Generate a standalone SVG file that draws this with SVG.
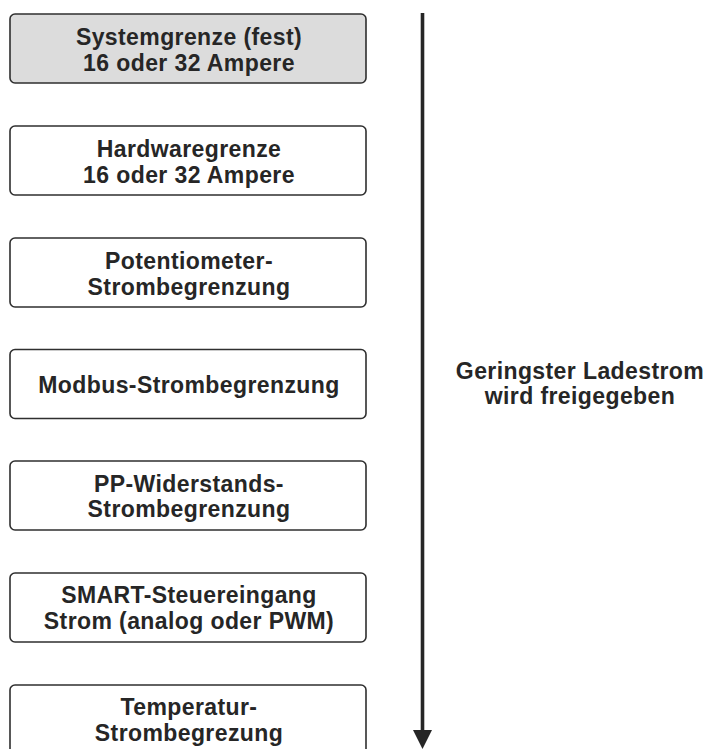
<svg xmlns="http://www.w3.org/2000/svg" width="707" height="749" viewBox="0 0 707 749">
  <defs>
    <style>
      .box { fill: #ffffff; stroke: #2f2f2f; stroke-width: 1.6; }
      .box.fixed { fill: #dcdcdc; }
      .lbl { font-family: "Liberation Sans", Arial, sans-serif; font-weight: bold; font-size: 23px; letter-spacing: 0.4px; fill: #262626; text-anchor: middle; }
      .flow { stroke: #262626; stroke-width: 3.6; fill: none; }
    </style>
  </defs>
  <rect width="707" height="749" fill="#ffffff"/>

  <!-- limit stages, evaluated top to bottom -->
  <g id="systemgrenze">
    <rect class="box fixed" x="10" y="14" width="356" height="69" rx="5"/>
    <text class="lbl" x="189" y="45">Systemgrenze (fest)</text>
    <text class="lbl" x="189" y="71">16 oder 32 Ampere</text>
  </g>
  <g id="hardwaregrenze">
    <rect class="box" x="10" y="126" width="356" height="69" rx="5"/>
    <text class="lbl" x="189" y="157">Hardwaregrenze</text>
    <text class="lbl" x="189" y="183">16 oder 32 Ampere</text>
  </g>
  <g id="potentiometer">
    <rect class="box" x="10" y="238" width="356" height="69" rx="5"/>
    <text class="lbl" x="189" y="268.5">Potentiometer-</text>
    <text class="lbl" x="189" y="294.5">Strombegrenzung</text>
  </g>
  <g id="modbus">
    <rect class="box" x="10" y="349.5" width="356" height="69" rx="5"/>
    <text class="lbl" x="189" y="392.5">Modbus-Strombegrenzung</text>
  </g>
  <g id="pp-widerstand">
    <rect class="box" x="10" y="461" width="356" height="69" rx="5"/>
    <text class="lbl" x="189" y="491.5">PP-Widerstands-</text>
    <text class="lbl" x="189" y="517">Strombegrenzung</text>
  </g>
  <g id="smart-eingang">
    <rect class="box" x="10" y="573" width="356" height="69" rx="5"/>
    <text class="lbl" x="189" y="603">SMART-Steuereingang</text>
    <text class="lbl" x="189" y="629">Strom (analog oder PWM)</text>
  </g>
  <g id="temperatur">
    <rect class="box" x="10" y="685" width="356" height="69" rx="5"/>
    <text class="lbl" x="189" y="715">Temperatur-</text>
    <text class="lbl" x="189" y="741">Strombegrezung</text>
  </g>

  <!-- direction of evaluation -->
  <g id="connectors">
    <line class="flow" x1="422.5" y1="13" x2="422.5" y2="732"/>
    <polygon points="413,730 432,730 422.5,749" fill="#262626"/>
  </g>

  <g id="ergebnis">
    <text class="lbl" x="580" y="379">Geringster Ladestrom</text>
    <text class="lbl" x="580" y="404">wird freigegeben</text>
  </g>
</svg>
